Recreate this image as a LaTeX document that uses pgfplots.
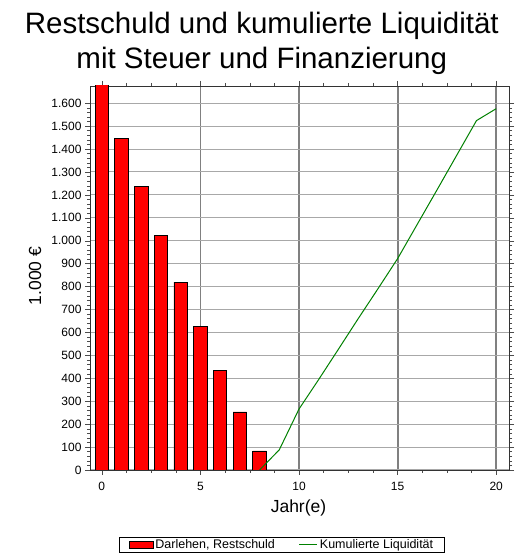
\documentclass[border=0pt]{standalone}
\usepackage{pgfplots}
\pgfplotsset{compat=1.18}
\usepackage{fontspec}
\setmainfont{Liberation Sans}
\definecolor{gridv}{HTML}{808080}
\definecolor{gridh}{HTML}{A8A8A8}
\definecolor{lgreen}{HTML}{008000}
\pgfplotsset{
  barleg/.style={legend image code/.code={\draw[#1] (0pt,-3.5pt) rectangle (24pt,3.5pt);}},
  lineleg/.style={legend image code/.code={\draw[#1] (0pt,0pt) -- (18pt,0pt);}},
}
\begin{document}
\begin{tikzpicture}[x=1pt,y=1pt]
\path[use as bounding box] (0,0) rectangle (525,556);
\begin{axis}[
  at={(90pt,86pt)}, anchor=south west,
  scale only axis, width=419pt, height=384pt,
  xmin=-0.6, xmax=20.65, ymin=0, ymax=1675,
  xtick={0,5,10,15,20},
  minor x tick num=3,
  ytick={0,100,...,1600},
  minor y tick num=4,
  tick align=outside,
  major tick length=5pt, minor tick length=3pt,
  every tick/.style={black!70},
  axis line style={black!80},
  /pgf/number format/assume math mode=true,
  /pgf/number format/.cd, 1000 sep={.},
  /pgfplots/.cd,
  ticklabel style={font=\fontsize{12}{14}\selectfont},
  xticklabel style={yshift=-4pt},
  ymajorgrids, xmajorgrids,
  y grid style={gridh, line width=1pt},
  x grid style={gridv, line width=1.8pt},
  title={Restschuld und kumulierte Liquidität\\mit Steuer und Finanzierung},
  title style={font=\fontsize{29.5}{35}\selectfont, align=center, at={(axis description cs:0.41,1)}, anchor=south, yshift=2pt},
  ylabel={1.000 €},
  ylabel style={font=\fontsize{17.5}{20}\selectfont, at={(axis description cs:-0.131,0.505)}, anchor=center, rotate=0},
  xlabel={Jahr(e)},
  xlabel style={font=\fontsize{17.5}{20}\selectfont, at={(axis description cs:0.4976,-0.098)}, anchor=center},
  legend columns=2,
  legend style={at={(axis description cs:0.458,-0.195)}, anchor=center, draw=black, line width=0.8pt,
    font=\fontsize{12.5}{14}\selectfont, inner xsep=9pt, inner ysep=0.5pt,
    /tikz/every even column/.append style={column sep=22pt}},
  legend cell align=left,
]
\addplot[ybar, bar width=13.5pt, fill=red, draw=black, line width=0.8pt, barleg]
  coordinates {(0,1700) (1,1447) (2,1238) (3,1024) (4,820) (5,628) (6,436) (7,253) (8,83)};
\addlegendentry{Darlehen, Restschuld}
\addplot[lgreen, line width=1pt, mark=none, lineleg]
  coordinates {(8,0) (9,88) (10,266) (11,395) (12,527) (13,660) (14,790) (15,922) (16,1072) (17,1222) (18,1373) (19,1524) (20,1576)};
\addlegendentry{Kumulierte Liquidität}
\end{axis}
\end{tikzpicture}
\end{document}
